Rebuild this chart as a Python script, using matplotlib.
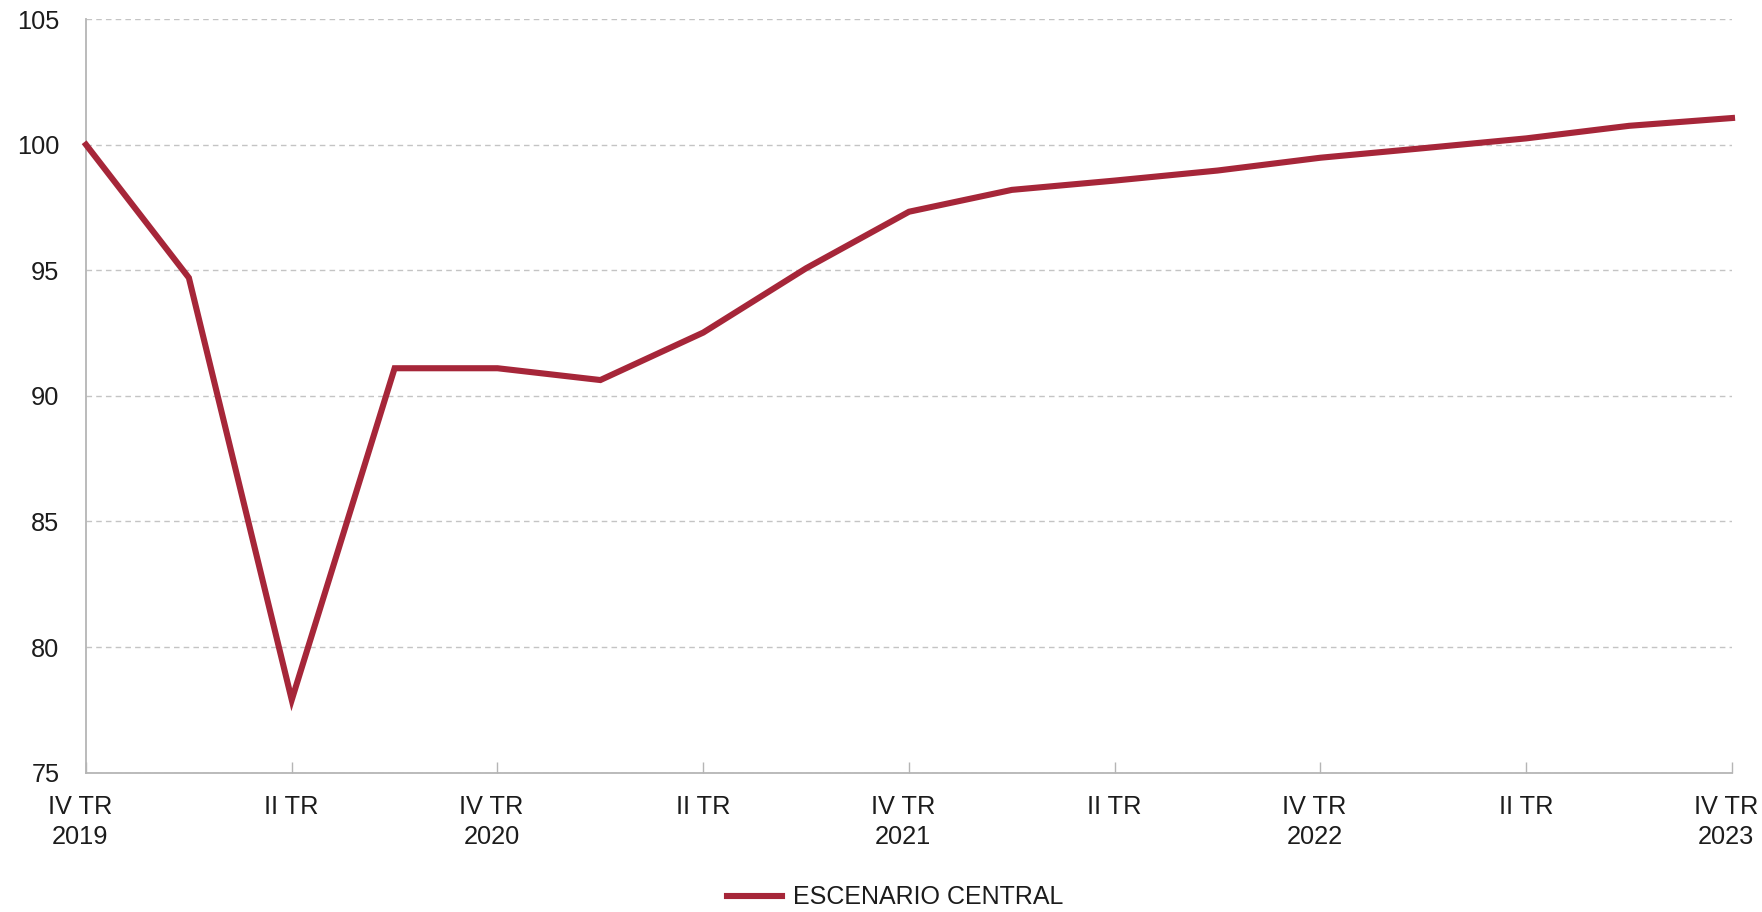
import matplotlib
matplotlib.use("Agg")
import matplotlib.pyplot as plt
import matplotlib.transforms as mtransforms

# Quarterly index, IV TR 2019 = 100
quarters = list(range(17))
escenario_central = [100.0, 94.7, 77.9, 91.1, 91.1, 90.63, 92.52, 95.08, 97.33,
                     98.2, 98.57, 98.97, 99.48, 99.86, 100.25, 100.75, 101.06]
tick_positions = [0, 2, 4, 6, 8, 10, 12, 14, 16]
tick_labels = ["IV TR\n2019", "II TR", "IV TR\n2020", "II TR", "IV TR\n2021",
               "II TR", "IV TR\n2022", "II TR", "IV TR\n2023"]
y_ticks = [75, 80, 85, 90, 95, 100, 105]
series_name = "ESCENARIO CENTRAL"

plt.rcParams["font.family"] = ["Liberation Sans", "DejaVu Sans"]

fig = plt.figure(figsize=(17.62, 9.1205), dpi=100)
ax = fig.add_axes([86 / 1762, 1 - 772.7 / 912, (1732 - 86) / 1762, (772.7 - 19.1) / 912])

line_color = "#A62639"
ax.plot(quarters, escenario_central, color=line_color, lw=4.4,
        solid_joinstyle="miter", label=series_name, zorder=3, clip_on=False)

ax.set_xlim(0, 16)
ax.set_ylim(75, 105)
ax.set_yticks(y_ticks)
ax.set_yticklabels([str(v) for v in y_ticks])
ax.set_xticks(tick_positions)
ax.set_xticklabels(tick_labels, linespacing=1.3)

ax.grid(axis="y", color="#c4c4c4", linestyle=(0, (4, 3)), linewidth=1.0, zorder=0)
ax.grid(axis="x", visible=False)

for side in ("top", "right"):
    ax.spines[side].set_visible(False)
for side in ("left", "bottom"):
    ax.spines[side].set_color("#b5b5b5")
    ax.spines[side].set_linewidth(1.3)

text_color = "#1c1c1c"
fs = 18.3
ax.tick_params(axis="y", length=0, pad=19, labelsize=fs, labelcolor=text_color)
ax.tick_params(axis="x", direction="in", length=8, width=1, color="#b5b5b5",
               pad=16, labelsize=fs, labelcolor=text_color)

# two-line year labels sit slightly left of their tick
shift = mtransforms.ScaledTranslation(-6 / 100, 0, fig.dpi_scale_trans)
for lab in ax.get_xticklabels():
    lab.set_horizontalalignment("center")
    if "\n" in lab.get_text():
        lab.set_transform(lab.get_transform() + shift)

leg = fig.legend(loc="center", bbox_to_anchor=(0.508, 0.016), frameon=False,
                 fontsize=18, handlelength=2.2, handletextpad=0.45)
for t in leg.get_texts():
    t.set_color(text_color)

fig.savefig("out.png", dpi=100, facecolor="white")
